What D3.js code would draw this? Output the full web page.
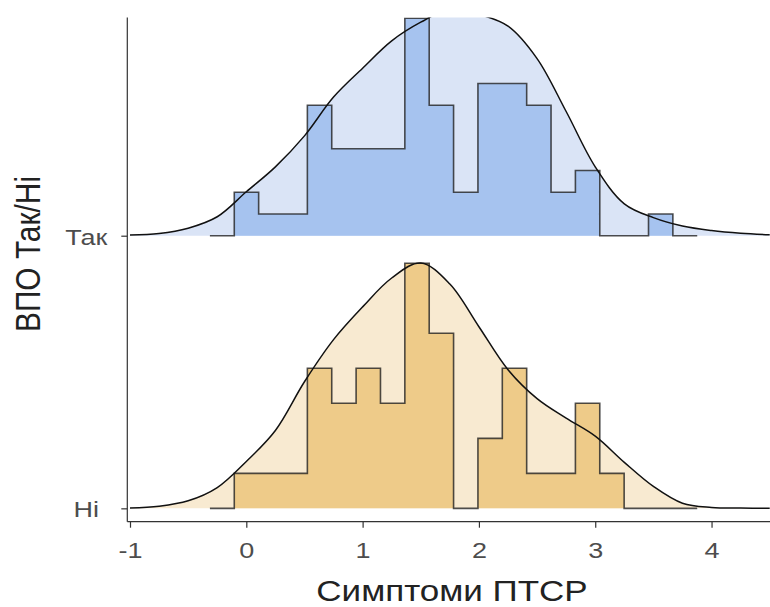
<!DOCTYPE html>
<html>
<head>
<meta charset="utf-8">
<script src="https://cdn.jsdelivr.net/npm/d3@7"></script>
<style>
  html, body { margin: 0; padding: 0; background: #fff; }
  svg { display: block; }
  text { font-family: "Liberation Sans", Arial, sans-serif; }
</style>
</head>
<body>
<svg id="chart" width="770" height="607"></svg>
<script>
// Groups on the y axis (bottom to top)
const categories = ["Ні", "Так"];

// Histogram bins (shared edges): first edge and width, in x units
const binStart = -0.313;
const binWidth = 0.2095;
// Counts per bin, including the empty padding bins at both ends
const countsTak = [0, 2, 1, 1, 6, 4, 4, 4, 10, 6, 2, 7, 7, 6, 2, 3, 0, 0, 1, 0];
const countsNi  = [0, 1, 1, 1, 4, 3, 4, 3, 7, 5, 0, 2, 4, 1, 1, 3, 1, 0, 0, 0];

// Kernel density estimates sampled on a regular grid
const densityX = [-1, -0.75, -0.5, -0.25, 0, 0.25, 0.5, 0.75, 1, 1.25, 1.5, 1.75,
                  2, 2.25, 2.5, 2.75, 3, 3.25, 3.5, 3.75, 4, 4.25, 4.5];
const densityTak = [0.002, 0.007, 0.025, 0.063, 0.146, 0.229, 0.332, 0.461, 0.557, 0.648, 0.710, 0.753,
                    0.736, 0.697, 0.589, 0.413, 0.229, 0.106, 0.060, 0.032, 0.017, 0.008, 0.003];
const densityNi  = [0.001, 0.007, 0.025, 0.069, 0.156, 0.259, 0.421, 0.561, 0.670, 0.766, 0.816, 0.746,
                    0.604, 0.461, 0.365, 0.300, 0.240, 0.153, 0.073, 0.017, 0.003, 0.001, 0.000];

// Axis ticks
const xTicks = [-1, 0, 1, 2, 3, 4];
const xTickLabels = ["-1", "0", "1", "2", "3", "4"];

const palette = {
  "Так": { light: "#dae4f6", dark: "#a6c3ef" },
  "Ні":  { light: "#f8ead1", dark: "#eecb89" }
};

// text is drawn slightly flattened vertically
const squash = 0.83;

const svg = d3.select("#chart");

const panel = { left: 127.3, right: 770, top: 17.6, bottom: 521.7 };

const x = d3.scaleLinear().domain([-1, 4.5]).range([130, 769.7]);
const y = d3.scaleLinear().domain([0.951, 2.8]).range([panel.bottom, panel.top]);

const ridgeScale = 0.9;

function histDensity(counts) {
  const n = d3.sum(counts);
  return counts.map(c => c / (n * binWidth));
}

const groups = [
  { name: "Так", pos: 2, counts: countsTak, dens: densityTak },
  { name: "Ні",  pos: 1, counts: countsNi,  dens: densityNi }
];
groups.forEach(g => { g.hist = histDensity(g.counts); });

const maxVal = d3.max(groups, g => Math.max(d3.max(g.hist), d3.max(g.dens)));
const h = d3.scaleLinear().domain([0, maxVal]).range([0, ridgeScale]);

svg.append("clipPath").attr("id", "panel-clip")
  .append("rect")
  .attr("x", panel.left).attr("y", panel.top)
  .attr("width", panel.right - panel.left)
  .attr("height", panel.bottom - panel.top);

const plot = svg.append("g").attr("clip-path", "url(#panel-clip)");

groups.forEach(g => {
  const gg = plot.append("g");
  const densPts = densityX.map((xv, i) => [xv, g.dens[i]]);

  // density fill
  gg.append("path")
    .datum(densPts)
    .attr("fill", palette[g.name].light)
    .attr("d", d3.area()
      .x(d => x(d[0]))
      .y0(y(g.pos))
      .y1(d => y(g.pos + h(d[1])))
      .curve(d3.curveCatmullRom.alpha(0.5)));

  // histogram as a step outline over the bin edges
  const histPts = g.hist.map((v, i) => [binStart + i * binWidth, v]);
  histPts.push([binStart + g.hist.length * binWidth, 0]);
  const stepPts = [[binStart, 0]].concat(histPts);

  gg.append("path")
    .datum(stepPts)
    .attr("fill", palette[g.name].dark)
    .attr("d", d3.area()
      .x(d => x(d[0]))
      .y0(y(g.pos))
      .y1(d => y(g.pos + h(d[1])))
      .curve(d3.curveStepAfter));

  gg.append("path")
    .datum(stepPts)
    .attr("fill", "none")
    .attr("stroke", "#222")
    .attr("stroke-opacity", 0.8)
    .attr("stroke-width", 1.6)
    .attr("d", d3.line()
      .x(d => x(d[0]))
      .y(d => y(g.pos + h(d[1])))
      .curve(d3.curveStepAfter));

  // density outline
  gg.append("path")
    .datum(densPts)
    .attr("fill", "none")
    .attr("stroke", "#111")
    .attr("stroke-width", 1.5)
    .attr("d", d3.line()
      .x(d => x(d[0]))
      .y(d => y(g.pos + h(d[1])))
      .curve(d3.curveCatmullRom.alpha(0.5)));
});

// x axis
const xAxis = d3.axisBottom(x)
  .tickValues(xTicks)
  .tickFormat((d, i) => xTickLabels[i])
  .tickSize(6);
const xg = svg.append("g").attr("transform", `translate(0,${panel.bottom})`).call(xAxis);
xg.select(".domain").remove();
xg.append("line")
  .attr("x1", panel.left).attr("x2", panel.right)
  .attr("stroke", "#333").attr("stroke-width", 1.2);
xg.selectAll(".tick line").attr("stroke", "#333").attr("stroke-width", 1.2);
xg.selectAll(".tick text")
  .attr("fill", "#4d4d4d")
  .attr("font-size", 27)
  .attr("y", 0).attr("dy", null)
  .attr("transform", `translate(0,36.5) scale(1,${squash})`);

// y axis (labels centred in the margin)
const yAxis = d3.axisLeft(y)
  .tickValues([1, 2])
  .tickFormat(d => categories[d - 1])
  .tickSize(6);
const yg = svg.append("g").attr("transform", `translate(${panel.left},0)`).call(yAxis);
yg.select(".domain").remove();
yg.append("line")
  .attr("y1", panel.top).attr("y2", panel.bottom)
  .attr("stroke", "#333").attr("stroke-width", 1.2);
yg.selectAll(".tick line").attr("stroke", "#333").attr("stroke-width", 1.2);
yg.selectAll(".tick text")
  .attr("fill", "#4d4d4d")
  .attr("font-size", 27)
  .attr("text-anchor", "middle")
  .attr("x", 0).attr("dy", null)
  .attr("transform", `translate(-41,8.5) scale(1,${squash})`);

// axis titles
svg.append("text")
  .attr("transform", `translate(452,601) scale(1,${squash})`)
  .attr("text-anchor", "middle")
  .attr("font-size", 35)
  .attr("fill", "#222")
  .text("Симптоми ПТСР");

svg.append("text")
  .attr("transform", `translate(40,254) rotate(-90) scale(${squash},1)`)
  .attr("text-anchor", "middle")
  .attr("font-size", 36)
  .attr("fill", "#222")
  .text("ВПО Так/Ні");
</script>
</body>
</html>
